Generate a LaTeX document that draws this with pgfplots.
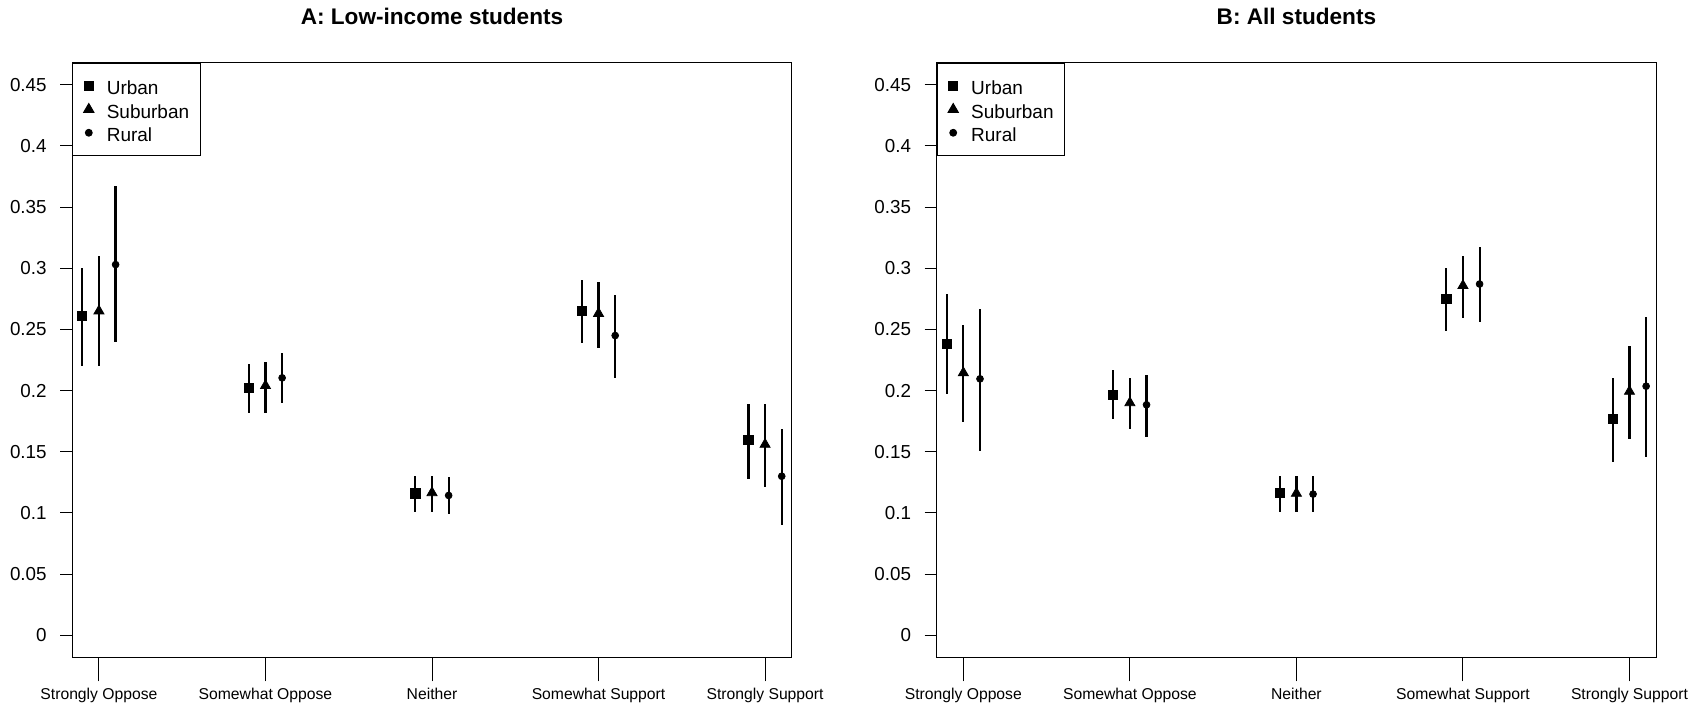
\documentclass[border=0pt]{standalone}
\usepackage{fontspec}
\setmainfont{Liberation Sans}
\usepackage{pgfplots}
\usepackage{pgfplotstable}
\pgfplotsset{compat=1.18}

% x = category position (urban -0.1, rural +0.1), y = estimate, lo/hi = interval
\pgfplotstableread{
x y lo hi
0.9 0.2610 0.2200 0.3000
1.9 0.2025 0.1820 0.2220
2.9 0.1160 0.1010 0.1300
3.9 0.2650 0.2390 0.2900
4.9 0.1595 0.1280 0.1890
}\AU
\pgfplotstableread{
x y lo hi
1 0.2650 0.2200 0.3100
2 0.2040 0.1820 0.2237
3 0.1165 0.1010 0.1300
4 0.2630 0.2350 0.2885
5 0.1560 0.1210 0.1890
}\AS
\pgfplotstableread{
x y lo hi
1.1 0.3030 0.2395 0.3670
2.1 0.2104 0.1895 0.2305
3.1 0.1143 0.0990 0.1290
4.1 0.2450 0.2104 0.2784
5.1 0.1300 0.0904 0.1690
}\AR
\pgfplotstableread{
x y lo hi
0.9 0.2384 0.1973 0.2790
1.9 0.1968 0.1764 0.2172
2.9 0.1165 0.1010 0.1300
3.9 0.2749 0.2485 0.3002
4.9 0.1769 0.1415 0.2104
}\BU
\pgfplotstableread{
x y lo hi
1 0.2145 0.1742 0.2534
2 0.1900 0.1682 0.2101
3 0.1160 0.1004 0.1300
4 0.2858 0.2591 0.3097
5 0.1993 0.1606 0.2363
}\BS
\pgfplotstableread{
x y lo hi
1.1 0.2096 0.1505 0.2667
2.1 0.1884 0.1622 0.2129
3.1 0.1154 0.1004 0.1300
4.1 0.2871 0.2561 0.3171
5.1 0.2036 0.1456 0.2602
}\BR

\pgfplotsset{
  rpanel/.style={
    scale only axis, width=359.7pt, height=297.3pt,
    xmin=0.84, xmax=5.16, ymin=-0.018, ymax=0.468,
    axis line style={line width=0.5pt, black},
    every tick/.style={line width=0.5pt, black},
    tick align=outside, xtick pos=lower, ytick pos=left,
    major tick length=6pt,
    xtick style={/pgfplots/major tick length=12pt},
    xtick={1,2,3,4,5},
    xticklabels={Strongly Oppose, Somewhat Oppose, Neither, Somewhat Support, Strongly Support},
    ytick={0,0.05,0.1,0.15,0.2,0.25,0.3,0.35,0.4,0.45},
    yticklabels={0,0.05,0.1,0.15,0.2,0.25,0.3,0.35,0.4,0.45},
    /pgf/number format/assume math mode=true,
    xticklabel style={font=\fontsize{7.85}{9}\selectfont},
    yticklabel style={font=\fontsize{9.4}{11}\selectfont},
    xticklabel shift=6pt,
    yticklabel shift=3.3pt,
    every axis title/.style={at={(0.5,1)}, anchor=base, yshift=19.35pt, font=\fontsize{11.3}{13}\selectfont\bfseries},
    legend style={at={(0,1)}, anchor=north west, draw=black, line width=0.5pt,
      inner xsep=3pt, inner ysep=5.525pt, row sep=0pt, column sep=4pt,
      font=\fontsize{9.5}{11}\selectfont,
      nodes={inner sep=0pt, text height=10.175pt, text depth=1.525pt}},
    legend cell align=left,
    legend image code/.code={\path[draw=none,fill=none] (-5pt,0pt) rectangle (5pt,0pt); \draw[##1] plot coordinates {(0pt,0pt)};},
    every axis plot/.append style={black, only marks,
      error bars/y dir=both, error bars/y explicit, error bars/error mark=none,
      error bars/error bar style={line width=1.1pt, black}},
  },
  usq/.style={mark=square*, mark size=2.3pt},
  str/.style={mark=triangle*, mark size=2.9pt},
  rci/.style={mark=*, mark size=1.7pt},
}

\begin{document}
\begin{tikzpicture}
\useasboundingbox (0,0) rectangle (850pt,354pt);
\begin{axis}[rpanel, at={(36.15pt,25.35pt)}, anchor=south west, title={A: Low-income students}]
\addplot[usq] table[x=x, y=y, y error plus expr=\thisrow{hi}-\thisrow{y}, y error minus expr=\thisrow{y}-\thisrow{lo}] {\AU};
\addlegendentry{\makebox[43.85pt][l]{Urban}}
\addplot[str] table[x=x, y=y, y error plus expr=\thisrow{hi}-\thisrow{y}, y error minus expr=\thisrow{y}-\thisrow{lo}] {\AS};
\addlegendentry{\makebox[43.85pt][l]{Suburban}}
\addplot[rci] table[x=x, y=y, y error plus expr=\thisrow{hi}-\thisrow{y}, y error minus expr=\thisrow{y}-\thisrow{lo}] {\AR};
\addlegendentry{\makebox[43.85pt][l]{Rural}}
\end{axis}
\begin{axis}[rpanel, at={(468.35pt,25.35pt)}, anchor=south west, title={B: All students}]
\addplot[usq] table[x=x, y=y, y error plus expr=\thisrow{hi}-\thisrow{y}, y error minus expr=\thisrow{y}-\thisrow{lo}] {\BU};
\addlegendentry{\makebox[43.85pt][l]{Urban}}
\addplot[str] table[x=x, y=y, y error plus expr=\thisrow{hi}-\thisrow{y}, y error minus expr=\thisrow{y}-\thisrow{lo}] {\BS};
\addlegendentry{\makebox[43.85pt][l]{Suburban}}
\addplot[rci] table[x=x, y=y, y error plus expr=\thisrow{hi}-\thisrow{y}, y error minus expr=\thisrow{y}-\thisrow{lo}] {\BR};
\addlegendentry{\makebox[43.85pt][l]{Rural}}
\end{axis}
\end{tikzpicture}
\end{document}
